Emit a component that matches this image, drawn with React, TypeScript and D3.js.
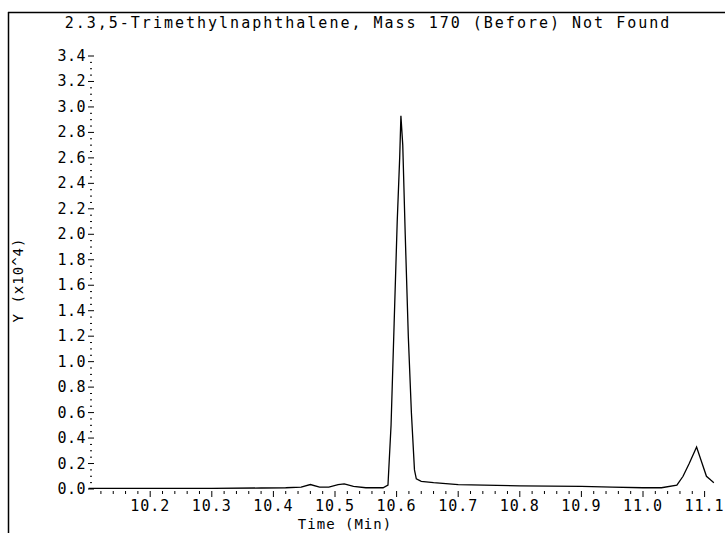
import React from "react";
import * as d3 from "d3";

const times = [10.10, 10.20, 10.30, 10.38, 10.42, 10.445, 10.46, 10.475, 10.49, 10.505, 10.515, 10.53, 10.55, 10.578, 10.586, 10.591, 10.596, 10.601, 10.605, 10.607, 10.610, 10.614, 10.619, 10.624, 10.629, 10.632, 10.64, 10.66, 10.70, 10.80, 10.90, 10.95, 11.00, 11.03, 11.055, 11.065, 11.075, 11.087, 11.096, 11.103, 11.11, 11.115];
const abundance = [0.005, 0.005, 0.005, 0.008, 0.01, 0.015, 0.035, 0.015, 0.015, 0.035, 0.04, 0.02, 0.01, 0.01, 0.03, 0.5, 1.3, 2.1, 2.6, 2.93, 2.7, 2.0, 1.2, 0.6, 0.15, 0.08, 0.06, 0.05, 0.035, 0.025, 0.02, 0.015, 0.01, 0.01, 0.03, 0.1, 0.2, 0.33, 0.2, 0.1, 0.07, 0.05];
const yTicks = [0.0, 0.2, 0.4, 0.6, 0.8, 1.0, 1.2, 1.4, 1.6, 1.8, 2.0, 2.2, 2.4, 2.6, 2.8, 3.0, 3.2, 3.4];
const xTicks = [10.2, 10.3, 10.4, 10.5, 10.6, 10.7, 10.8, 10.9, 11.0, 11.1];
const titleText = "2.3,5-Trimethylnaphthalene, Mass 170 (Before) Not Found";

export default function App() {
  const W = 725, H = 533;
  const x = d3.scaleLinear().domain([10.1, 11.1]).range([88.6, 704.6]);
  const y = d3.scaleLinear().domain([0, 3.4]).range([489, 56]);
  const pts: [number, number][] = times.map((t, i) => [t, abundance[i]]);
  const line = d3.line<[number, number]>().x(d => x(d[0])).y(d => y(d[1]));
  const font = "'DejaVu Sans Mono', monospace";
  const yMinor = d3.range(0, 3.45, 0.05).filter(v => Math.abs(v * 5 - Math.round(v * 5)) > 1e-6);
  const xMinor = d3.range(10.1, 11.12, 0.02).filter(v => Math.abs(v * 10 - Math.round(v * 10)) > 1e-6);
  return (
    <svg width={W} height={H} style={{ position: "absolute", left: 0, top: 0, background: "#fff" }}>
      <line x1={8.5} y1={12} x2={8.5} y2={H} stroke="#000" strokeWidth={1.5} />
      <line x1={8} y1={12.5} x2={W} y2={12.5} stroke="#000" strokeWidth={1.5} />
      <text x={368} y={28} textAnchor="middle" fontFamily={font} fontSize={15} letterSpacing={2} fill="#000">{titleText}</text>
      {yTicks.map(v => (
        <g key={"y" + v}>
          <line x1={88} x2={94} y1={y(v)} y2={y(v)} stroke="#000" strokeWidth={1} />
          <text x={86} y={y(v) + 5} textAnchor="end" fontFamily={font} fontSize={15} letterSpacing={0.5} fill="#000">{v.toFixed(1)}</text>
        </g>
      ))}
      {yMinor.map(v => (
        <line key={"ym" + v} x1={90} x2={92} y1={y(v)} y2={y(v)} stroke="#000" strokeWidth={1} />
      ))}
      {xTicks.map(v => (
        <g key={"x" + v}>
          <line x1={x(v)} x2={x(v)} y1={y(0) + 2} y2={y(0) + 8} stroke="#000" strokeWidth={1} />
          <text x={x(v)} y={y(0) + 22} textAnchor="middle" fontFamily={font} fontSize={15} letterSpacing={1} fill="#000">{v.toFixed(1)}</text>
        </g>
      ))}
      {xMinor.map(v => (
        <line key={"xm" + v} x1={x(v)} x2={x(v)} y1={y(0) + 2} y2={y(0) + 5} stroke="#000" strokeWidth={1} />
      ))}
      <text x={345} y={y(0) + 40} textAnchor="middle" fontFamily={font} fontSize={14} letterSpacing={1} fill="#000">Time (Min)</text>
      <text transform={`translate(23,280) rotate(-90)`} textAnchor="middle" fontFamily={font} fontSize={14} letterSpacing={1} fill="#000">Y (x10^4)</text>
      <path d={line(pts) || ""} fill="none" stroke="#000" strokeWidth={1.3} />
    </svg>
  );
}
